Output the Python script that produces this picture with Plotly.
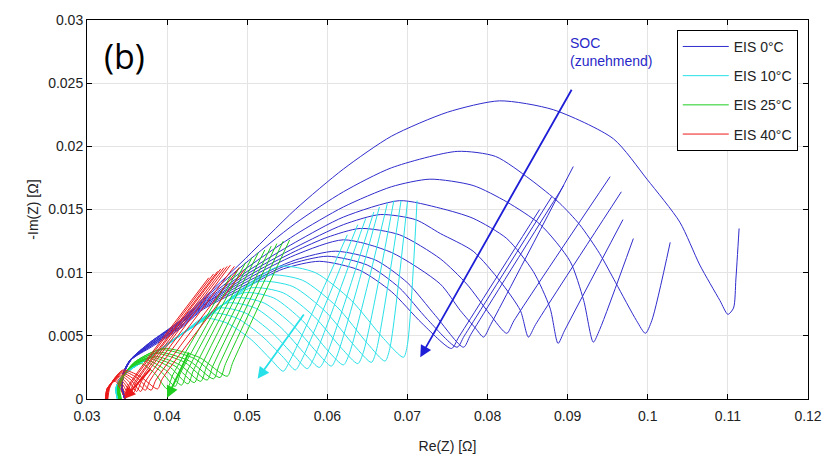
import plotly.graph_objects as go

# Nyquist curves (Re(Z), -Im(Z)) in Ohm, one list per SOC step, per temperature
re_0C = [
    [0.0347,0.0343,0.0345,0.0354,0.0379,0.0416,0.0444,0.0491,0.0560,0.0620,0.0680,0.0750,0.0815,0.0882,0.0957,0.0999,0.1040,0.1065,0.1090,0.1100,0.1107,0.1110,0.1114],
    [0.0347,0.0343,0.0345,0.0354,0.0379,0.0416,0.0444,0.0495,0.0560,0.0620,0.0680,0.0762,0.0810,0.0853,0.0890,0.0915,0.0940,0.0960,0.0986,0.0997,0.1005,0.1028],
    [0.0347,0.0343,0.0345,0.0354,0.0379,0.0416,0.0444,0.0500,0.0560,0.0620,0.0680,0.0728,0.0782,0.0824,0.0866,0.0903,0.0920,0.0932,0.0940,0.0982],
    [0.0347,0.0343,0.0345,0.0354,0.0379,0.0416,0.0444,0.0500,0.0560,0.0620,0.0690,0.0741,0.0782,0.0824,0.0857,0.0878,0.0888,0.0896,0.0969],
    [0.0347,0.0343,0.0345,0.0354,0.0379,0.0416,0.0444,0.0500,0.0560,0.0620,0.0666,0.0710,0.0741,0.0782,0.0816,0.0841,0.0851,0.0860,0.0967],
    [0.0347,0.0343,0.0345,0.0354,0.0379,0.0416,0.0444,0.0500,0.0560,0.0600,0.0641,0.0690,0.0741,0.0774,0.0803,0.0824,0.0833,0.0953],
    [0.0348,0.0344,0.0346,0.0355,0.0380,0.0417,0.0445,0.0500,0.0560,0.0620,0.0680,0.0741,0.0766,0.0785,0.0795,0.0804,0.0907],
    [0.0348,0.0344,0.0346,0.0355,0.0380,0.0417,0.0445,0.0500,0.0560,0.0610,0.0660,0.0700,0.0735,0.0770,0.0779,0.0895],
    [0.0348,0.0344,0.0346,0.0355,0.0380,0.0417,0.0445,0.0500,0.0550,0.0600,0.0650,0.0690,0.0725,0.0762,0.0771,0.0880],
    [0.0348,0.0344,0.0346,0.0355,0.0380,0.0417,0.0445,0.0500,0.0545,0.0590,0.0640,0.0680,0.0718,0.0755,0.0764,0.0865],
]
im_0C = [
    [0.0000,0.0010,0.0020,0.0031,0.0045,0.0062,0.0079,0.0107,0.0150,0.0182,0.0208,0.0227,0.0236,0.0229,0.0206,0.0174,0.0140,0.0106,0.0078,0.0067,0.0072,0.0095,0.0135],
    [0.0000,0.0010,0.0020,0.0031,0.0045,0.0061,0.0078,0.0106,0.0139,0.0164,0.0183,0.0196,0.0192,0.0174,0.0155,0.0138,0.0115,0.0092,0.0062,0.0052,0.0062,0.0124],
    [0.0000,0.0010,0.0020,0.0031,0.0044,0.0061,0.0077,0.0104,0.0130,0.0152,0.0168,0.0174,0.0169,0.0156,0.0138,0.0109,0.0078,0.0045,0.0055,0.0127],
    [0.0000,0.0010,0.0020,0.0031,0.0044,0.0060,0.0076,0.0101,0.0124,0.0144,0.0157,0.0151,0.0143,0.0127,0.0101,0.0072,0.0044,0.0054,0.0142],
    [0.0000,0.0010,0.0020,0.0031,0.0043,0.0059,0.0075,0.0099,0.0120,0.0138,0.0146,0.0142,0.0131,0.0117,0.0093,0.0070,0.0049,0.0059,0.0164],
    [0.0000,0.0010,0.0020,0.0031,0.0043,0.0059,0.0074,0.0097,0.0117,0.0128,0.0135,0.0130,0.0111,0.0091,0.0067,0.0052,0.0062,0.0176],
    [0.0000,0.0010,0.0020,0.0031,0.0043,0.0058,0.0074,0.0095,0.0114,0.0126,0.0116,0.0091,0.0070,0.0056,0.0049,0.0059,0.0184],
    [0.0000,0.0010,0.0020,0.0031,0.0042,0.0058,0.0073,0.0093,0.0110,0.0117,0.0110,0.0092,0.0066,0.0041,0.0051,0.0169],
    [0.0000,0.0010,0.0020,0.0031,0.0042,0.0057,0.0072,0.0091,0.0106,0.0113,0.0106,0.0088,0.0063,0.0041,0.0050,0.0160],
    [0.0000,0.0010,0.0020,0.0031,0.0041,0.0056,0.0071,0.0089,0.0103,0.0109,0.0102,0.0085,0.0060,0.0040,0.0049,0.0150],
]

re_10C = [
    [0.0338,0.0336,0.0341,0.0355,0.0380,0.0404,0.0425,0.0445,0.0475,0.0505,0.0530,0.0545,0.0553,0.0625],
    [0.0338,0.0336,0.0341,0.0355,0.0380,0.0404,0.0430,0.0455,0.0487,0.0518,0.0545,0.0560,0.0568,0.0638],
    [0.0338,0.0336,0.0341,0.0355,0.0380,0.0405,0.0433,0.0465,0.0498,0.0530,0.0559,0.0575,0.0583,0.0648],
    [0.0338,0.0336,0.0341,0.0355,0.0380,0.0405,0.0435,0.0475,0.0510,0.0543,0.0573,0.0590,0.0598,0.0658],
    [0.0338,0.0336,0.0341,0.0355,0.0380,0.0406,0.0438,0.0485,0.0521,0.0556,0.0587,0.0605,0.0612,0.0665],
    [0.0339,0.0337,0.0342,0.0356,0.0381,0.0406,0.0440,0.0495,0.0533,0.0569,0.0601,0.0620,0.0627,0.0675],
    [0.0339,0.0337,0.0342,0.0356,0.0381,0.0407,0.0443,0.0475,0.0505,0.0545,0.0584,0.0618,0.0638,0.0645,0.0683],
    [0.0339,0.0337,0.0342,0.0356,0.0381,0.0407,0.0446,0.0480,0.0515,0.0557,0.0598,0.0634,0.0655,0.0661,0.0692],
    [0.0339,0.0337,0.0342,0.0356,0.0381,0.0408,0.0449,0.0487,0.0525,0.0569,0.0612,0.0650,0.0672,0.0678,0.0700],
    [0.0339,0.0337,0.0342,0.0356,0.0381,0.0408,0.0452,0.0495,0.0540,0.0585,0.0630,0.0670,0.0695,0.0700,0.0712],
]
im_10C = [
    [0.0000,0.0008,0.0016,0.0024,0.0034,0.0045,0.0055,0.0064,0.0060,0.0047,0.0031,0.0022,0.0030,0.0130],
    [0.0000,0.0008,0.0016,0.0024,0.0034,0.0045,0.0057,0.0068,0.0064,0.0050,0.0033,0.0023,0.0031,0.0138],
    [0.0000,0.0008,0.0016,0.0024,0.0034,0.0045,0.0058,0.0072,0.0068,0.0053,0.0034,0.0024,0.0032,0.0143],
    [0.0000,0.0008,0.0016,0.0024,0.0034,0.0045,0.0059,0.0076,0.0072,0.0056,0.0035,0.0025,0.0033,0.0148],
    [0.0000,0.0008,0.0016,0.0024,0.0034,0.0046,0.0060,0.0080,0.0076,0.0059,0.0037,0.0026,0.0034,0.0152],
    [0.0000,0.0008,0.0016,0.0024,0.0034,0.0046,0.0061,0.0084,0.0080,0.0062,0.0038,0.0027,0.0035,0.0155],
    [0.0000,0.0008,0.0016,0.0024,0.0034,0.0046,0.0062,0.0077,0.0088,0.0084,0.0065,0.0040,0.0028,0.0037,0.0157],
    [0.0000,0.0008,0.0016,0.0024,0.0034,0.0047,0.0063,0.0080,0.0093,0.0089,0.0069,0.0042,0.0029,0.0038,0.0157],
    [0.0000,0.0008,0.0016,0.0024,0.0034,0.0047,0.0064,0.0083,0.0098,0.0094,0.0073,0.0044,0.0030,0.0040,0.0156],
    [0.0000,0.0008,0.0016,0.0024,0.0034,0.0047,0.0065,0.0088,0.0105,0.0100,0.0078,0.0048,0.0033,0.0043,0.0157],
]

re_25C = [
    [0.0340,0.0338,0.0343,0.0355,0.0368,0.0385,0.0400,0.0407,0.0480],
    [0.0340,0.0338,0.0343,0.0355,0.0371,0.0392,0.0410,0.0417,0.0490],
    [0.0340,0.0338,0.0343,0.0356,0.0374,0.0398,0.0418,0.0425,0.0498],
    [0.0341,0.0339,0.0344,0.0356,0.0377,0.0404,0.0426,0.0433,0.0506],
    [0.0341,0.0339,0.0344,0.0357,0.0380,0.0410,0.0434,0.0441,0.0514],
    [0.0341,0.0339,0.0344,0.0357,0.0383,0.0416,0.0442,0.0449,0.0522],
    [0.0342,0.0340,0.0345,0.0358,0.0386,0.0422,0.0450,0.0457,0.0530],
    [0.0342,0.0340,0.0345,0.0358,0.0389,0.0428,0.0458,0.0465,0.0537],
    [0.0342,0.0340,0.0345,0.0359,0.0392,0.0434,0.0466,0.0473,0.0545],
    [0.0343,0.0341,0.0346,0.0359,0.0395,0.0440,0.0475,0.0482,0.0553],
]
im_25C = [
    [0.0000,0.0008,0.0017,0.0025,0.0028,0.0020,0.0008,0.0019,0.0098],
    [0.0000,0.0008,0.0017,0.0025,0.0030,0.0022,0.0010,0.0021,0.0104],
    [0.0000,0.0008,0.0017,0.0026,0.0031,0.0023,0.0011,0.0022,0.0108],
    [0.0000,0.0008,0.0017,0.0026,0.0032,0.0025,0.0012,0.0023,0.0112],
    [0.0000,0.0008,0.0017,0.0027,0.0033,0.0026,0.0013,0.0024,0.0116],
    [0.0000,0.0008,0.0017,0.0027,0.0034,0.0027,0.0014,0.0025,0.0118],
    [0.0000,0.0008,0.0018,0.0028,0.0036,0.0029,0.0015,0.0026,0.0121],
    [0.0000,0.0008,0.0018,0.0028,0.0037,0.0030,0.0016,0.0027,0.0123],
    [0.0000,0.0008,0.0018,0.0029,0.0039,0.0032,0.0017,0.0028,0.0125],
    [0.0000,0.0008,0.0018,0.0029,0.0040,0.0033,0.0018,0.0029,0.0126],
]

re_40C = [
    [0.0323,0.0325,0.0331,0.0336,0.0341,0.0346,0.0352,0.0452],
    [0.0323,0.0325,0.0331,0.0337,0.0343,0.0349,0.0355,0.0458],
    [0.0323,0.0325,0.0332,0.0338,0.0345,0.0352,0.0358,0.0463],
    [0.0324,0.0326,0.0332,0.0339,0.0347,0.0355,0.0361,0.0467],
    [0.0324,0.0326,0.0332,0.0340,0.0349,0.0358,0.0364,0.0471],
    [0.0324,0.0326,0.0333,0.0341,0.0352,0.0362,0.0368,0.0475],
    [0.0325,0.0327,0.0333,0.0342,0.0355,0.0367,0.0373,0.0479],
    [0.0325,0.0327,0.0333,0.0343,0.0358,0.0373,0.0379,0.0484],
    [0.0325,0.0327,0.0334,0.0344,0.0362,0.0380,0.0386,0.0490],
    [0.0326,0.0328,0.0334,0.0345,0.0366,0.0388,0.0394,0.0496],
]
im_40C = [
    [0.0000,0.0008,0.0013,0.0014,0.0009,0.0003,0.0011,0.0096],
    [0.0000,0.0008,0.0013,0.0015,0.0010,0.0004,0.0012,0.0099],
    [0.0000,0.0008,0.0013,0.0016,0.0011,0.0004,0.0012,0.0101],
    [0.0000,0.0008,0.0014,0.0017,0.0012,0.0005,0.0013,0.0103],
    [0.0000,0.0008,0.0014,0.0018,0.0013,0.0005,0.0013,0.0104],
    [0.0000,0.0008,0.0014,0.0019,0.0014,0.0006,0.0014,0.0105],
    [0.0000,0.0008,0.0015,0.0020,0.0015,0.0006,0.0014,0.0106],
    [0.0000,0.0008,0.0015,0.0021,0.0016,0.0007,0.0015,0.0105],
    [0.0000,0.0008,0.0016,0.0022,0.0017,0.0007,0.0015,0.0104],
    [0.0000,0.0008,0.0016,0.0023,0.0018,0.0008,0.0016,0.0102],
]

series_names = ["EIS 0°C", "EIS 10°C", "EIS 25°C", "EIS 40°C"]
series_colors = ["rgb(48,44,205)", "rgb(40,225,232)", "rgb(30,205,30)", "rgb(235,25,25)"]

# SOC arrows per temperature: (tail Re, tail -Im, head Re, head -Im)
arrow_tail_re = [0.0906, 0.0572, 0.0428, 0.0381]
arrow_tail_im = [0.0246, 0.0068, 0.0038, 0.0025]
arrow_head_re = [0.0716, 0.0513, 0.0400, 0.0346]
arrow_head_im = [0.0033, 0.0016, 0.0001, 0.0000]
arrow_colors = ["rgb(30,30,215)", "rgb(40,225,232)", "rgb(30,205,30)", "rgb(235,25,25)"]

x_ticks = [0.03, 0.04, 0.05, 0.06, 0.07, 0.08, 0.09, 0.10, 0.11, 0.12]
x_tick_text = ["0.03", "0.04", "0.05", "0.06", "0.07", "0.08", "0.09", "0.1", "0.11", "0.12"]
y_ticks = [0, 0.005, 0.01, 0.015, 0.02, 0.025, 0.03]
y_tick_text = ["0", "0.005", "0.01", "0.015", "0.02", "0.025", "0.03"]

all_re = [re_0C, re_10C, re_25C, re_40C]
all_im = [im_0C, im_10C, im_25C, im_40C]

label_font = "Liberation Sans, Arial, sans-serif"

fig = go.Figure()
for s, (name, color) in enumerate(zip(series_names, series_colors)):
    for k, (xs, ys) in enumerate(zip(all_re[s], all_im[s])):
        fig.add_trace(go.Scatter(
            x=xs, y=ys, mode="lines", name=name,
            legendgroup=name, showlegend=(k == 0),
            line=dict(color=color, width=1, shape="spline", smoothing=0.7),
            hoverinfo="skip",
        ))

for tr, ti, hr, hi, c in zip(arrow_tail_re, arrow_tail_im, arrow_head_re, arrow_head_im, arrow_colors):
    fig.add_annotation(
        x=hr, y=hi, ax=tr, ay=ti, xref="x", yref="y", axref="x", ayref="y",
        text="", showarrow=True, arrowhead=2, arrowsize=1.3, arrowwidth=1.8,
        arrowcolor=c,
    )

fig.add_annotation(
    x=0.0900, y=0.0290, xref="x", yref="y", xanchor="left", yanchor="top",
    text="SOC<br>(zunehmend)", showarrow=False, align="left",
    font=dict(family=label_font, size=14, color="rgb(40,40,200)"),
)
fig.add_annotation(
    x=0.0527, y=0.905, xref="paper", yref="paper", xanchor="center", yanchor="middle",
    text="(b)", showarrow=False,
    font=dict(family="Open Sans, Liberation Sans, sans-serif", size=34, color="black"),
)

axis_common = dict(
    showline=True, linecolor="black", linewidth=1, mirror="ticks",
    ticks="inside", ticklen=5, tickcolor="black",
    showgrid=True, gridcolor="#e4e4e4", gridwidth=1, zeroline=False,
    tickfont=dict(family=label_font, size=14, color="#222"),
)
fig.update_xaxes(
    range=[0.03, 0.12], tickvals=x_ticks, ticktext=x_tick_text, ticklabelstandoff=4,
    title=dict(text="Re(Z) [Ω]", font=dict(family=label_font, size=14, color="#222"), standoff=18),
    **axis_common,
)
fig.update_yaxes(
    range=[0, 0.03], tickvals=y_ticks, ticktext=y_tick_text,
    title=dict(text="-Im(Z) [Ω]", font=dict(family=label_font, size=14, color="#222"), standoff=6),
    **axis_common,
)

fig.update_layout(
    width=836, height=464,
    margin=dict(l=87, r=28, t=17, b=64),
    paper_bgcolor="white", plot_bgcolor="white",
    showlegend=True,
    legend=dict(
        x=0.818, y=0.974, xanchor="left", yanchor="top",
        bgcolor="white", bordercolor="black", borderwidth=1,
        font=dict(family=label_font, size=14, color="#222"),
        tracegroupgap=8, traceorder="grouped", itemwidth=46,
    ),
)

fig.write_html("out.html")
